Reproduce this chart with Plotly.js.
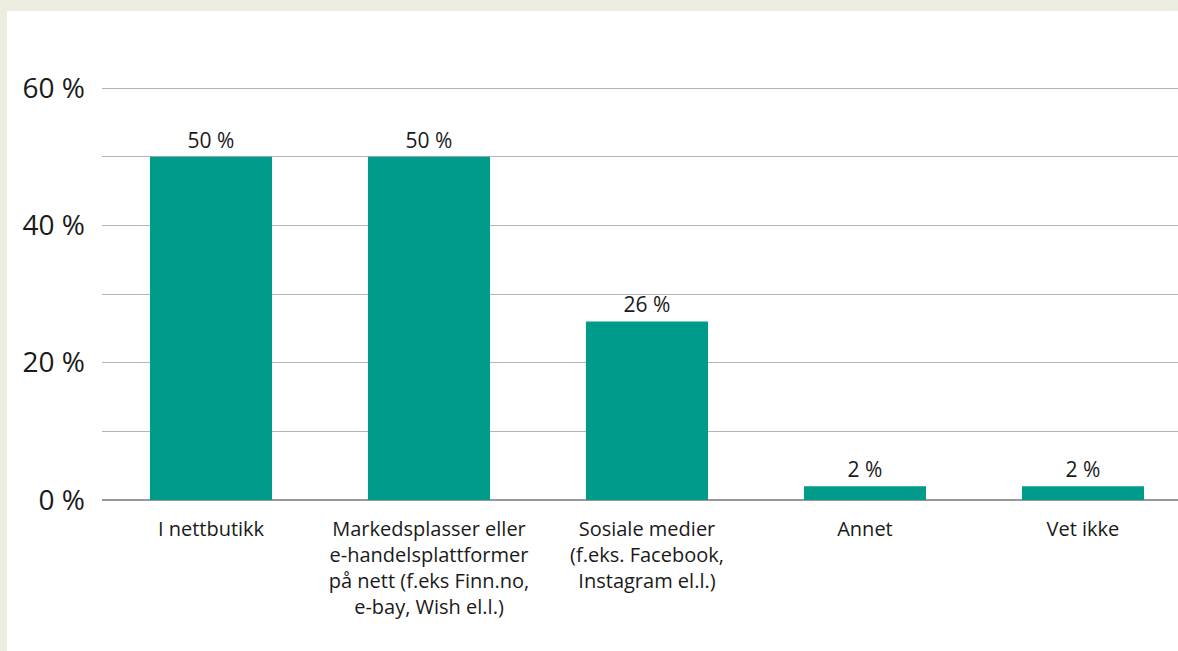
<!DOCTYPE html>
<html><head><meta charset="utf-8">
<script src="https://cdn.plot.ly/plotly-3.0.1.min.js"></script>
<style>html,body{margin:0;padding:0;background:#edece0;}#chart{width:1178px;height:651px;}</style>
</head><body><div id="chart"></div>
<script>
const categories = ["I nettbutikk", "Markedsplasser eller<br>e-handelsplattformer<br>på nett (f.eks Finn.no,<br>e-bay, Wish el.l.)", "Sosiale medier<br>(f.eks. Facebook,<br>Instagram el.l.)", "Annet", "Vet ikke"];
const values = [50, 50, 26, 2, 2];
const valueLabels = ["50 %", "50 %", "26 %", "2 %", "2 %"];
const yTickVals = [0, 20, 40, 60];
const yTickText = ["0 %", "20 %", "40 %", "60 %"];

const font = "'Open Sans', 'Noto Sans', sans-serif";
Plotly.newPlot('chart', [{
  type: 'bar',
  x: categories,
  y: values,
  text: valueLabels,
  textposition: 'outside',
  textfont: {family: font, size: 21, color: '#1a1a1a'},
  cliponaxis: false,
  width: 0.56,
  marker: {color: '#009b8a'},
  hoverinfo: 'none'
}], {
  width: 1178, height: 651,
  paper_bgcolor: '#edece0',
  plot_bgcolor: 'rgba(0,0,0,0)',
  margin: {l: 102, r: 0, t: 87, b: 151},
  showlegend: false,
  font: {family: font, color: '#1a1a1a'},
  shapes: [{type: 'rect', xref: 'paper', yref: 'paper', layer: 'below',
    x0: -95/1076, x1: 1.01, y0: -151/413, y1: 1 + 76/413,
    fillcolor: '#ffffff', line: {width: 0}}],
  xaxis: {
    range: [-0.5, 4.436],
    showgrid: false, zeroline: false, showline: false,
    ticks: '', tickfont: {family: font, size: 20, color: '#1a1a1a'},
    ticklabelstandoff: 15, fixedrange: true
  },
  yaxis: {
    range: [0, 60.15],
    tickvals: yTickVals, ticktext: yTickText,
    tickfont: {family: font, size: 28, color: '#1a1a1a'},
    showgrid: true, gridcolor: '#b5b5b5', gridwidth: 1,
    minor: {dtick: 10, tick0: 0, showgrid: true, gridcolor: '#b5b5b5', gridwidth: 1},
    zeroline: true, zerolinecolor: '#999999', zerolinewidth: 2,
    showline: false, ticks: '', ticklabelstandoff: 16, fixedrange: true
  }
}, {displayModeBar: false, staticPlot: true});
</script></body></html>
